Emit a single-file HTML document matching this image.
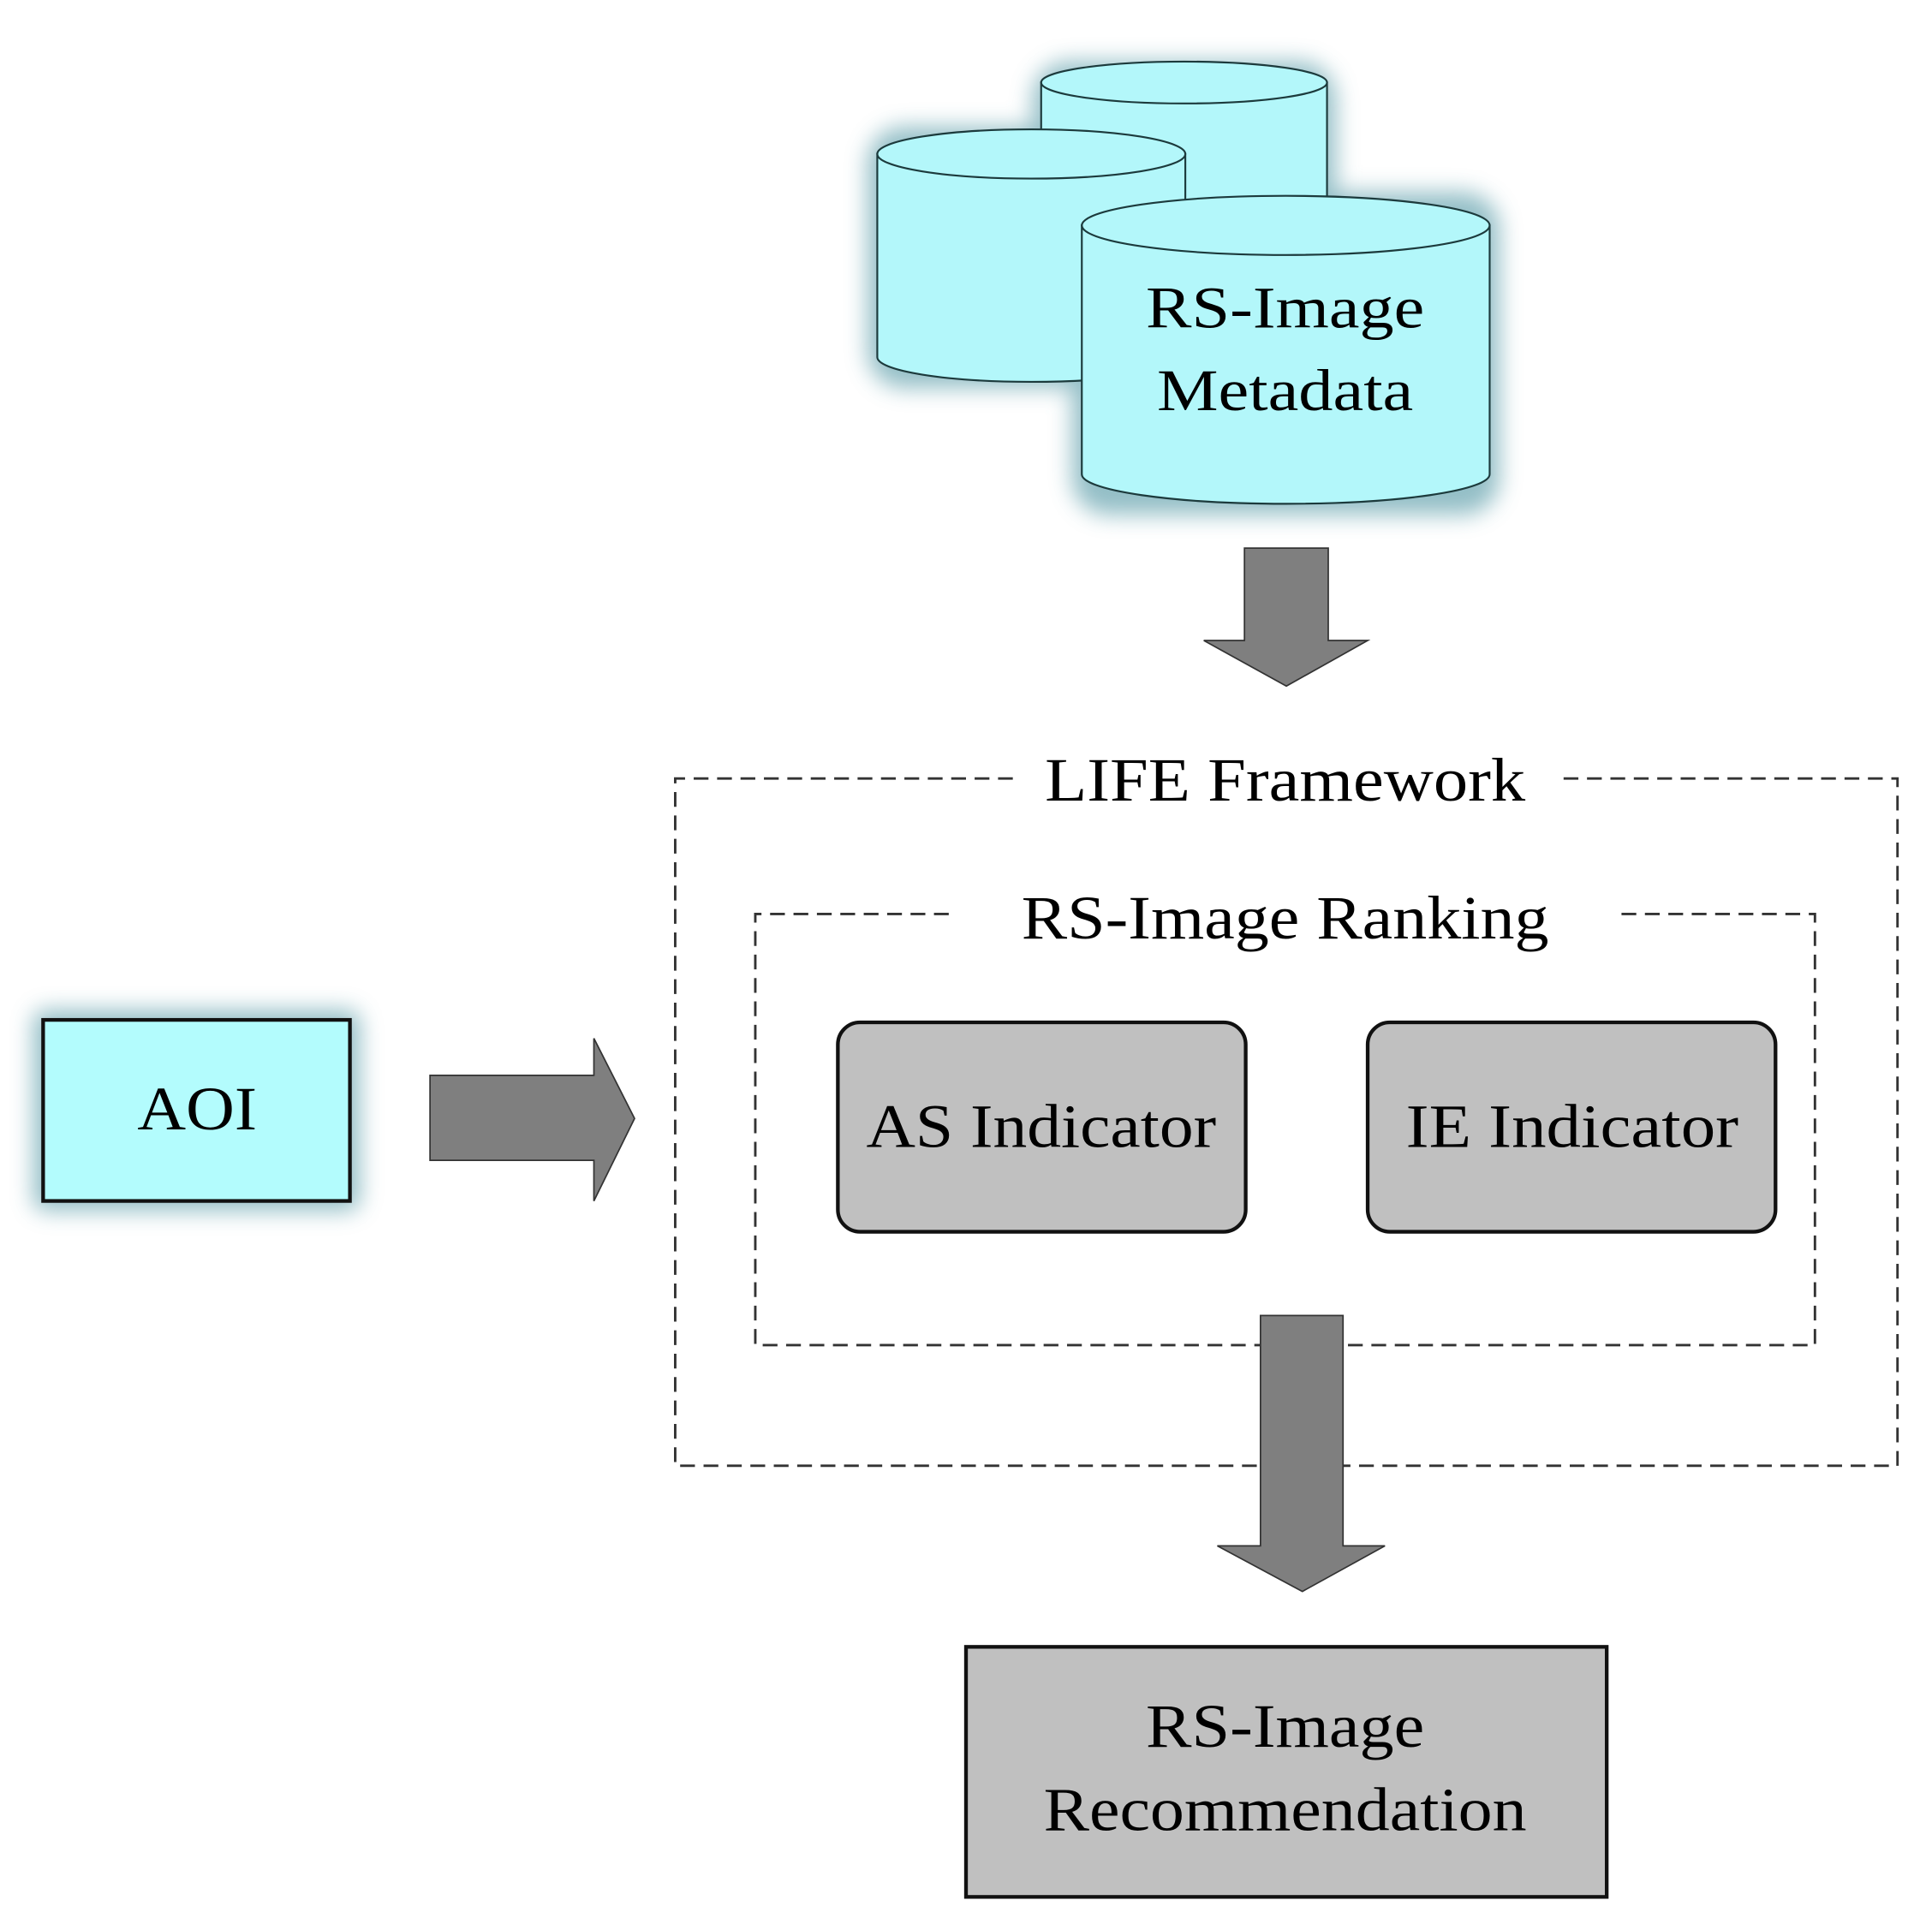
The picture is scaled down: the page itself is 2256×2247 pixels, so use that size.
<!DOCTYPE html>
<html><head><meta charset="utf-8"><style>
html,body{margin:0;padding:0;background:#fff;}
svg{display:block;}
text{font-family:"Liberation Serif",serif;fill:#000;}
</style></head><body>
<svg width="2256" height="2247" viewBox="0 0 1568 1562" preserveAspectRatio="none" xmlns="http://www.w3.org/2000/svg">
<defs>
<filter id="glow" x="-20%" y="-20%" width="140%" height="140%"><feGaussianBlur stdDeviation="9"/></filter>
</defs>
<rect width="1568" height="1562" fill="#fff"/>
<g filter="url(#glow)" fill="#6fa9b4" opacity="0.75">
<rect x="838" y="50" width="246" height="200" rx="30"/>
<rect x="704" y="103" width="266" height="212" rx="30"/>
<rect x="870" y="156" width="347" height="262" rx="30"/>
<rect x="27" y="820" width="265" height="163" rx="10"/>
</g>
<g stroke="#1c3a3c" stroke-width="1.5" fill="#b3f7fa">
<path d="M845 67 L845 240 A116 17 0 0 0 1077 240 L1077 67 Z"/>
<ellipse cx="961" cy="67" rx="116" ry="17"/>
<path d="M712 125 L712 290 A125 20 0 0 0 962 290 L962 125 Z"/>
<ellipse cx="837" cy="125" rx="125" ry="20"/>
<path d="M878 183 L878 385 A165.5 24 0 0 0 1209 385 L1209 183 Z"/>
<ellipse cx="1043.5" cy="183" rx="165.5" ry="24"/>
</g>
<text x="1043" y="266" font-size="48" text-anchor="middle" textLength="226" lengthAdjust="spacingAndGlyphs">RS-Image</text>
<text x="1043" y="333" font-size="48" text-anchor="middle" textLength="208" lengthAdjust="spacingAndGlyphs">Metadata</text>
<path d="M1010 445 L1078 445 L1078 520 L1110 520 L1044 557 L977 520 L1010 520 Z" fill="#7f7f7f" stroke="#333" stroke-width="1.2"/>
<g fill="none" stroke="#333" stroke-width="2" stroke-dasharray="12,7">
<path d="M822 632 L548 632 L548 1190 L1540 1190 L1540 632 L1264 632"/>
<path d="M770 742 L613 742 L613 1092 L1473 1092 L1473 742 L1312 742"/>
</g>
<text x="1043" y="650" font-size="50" text-anchor="middle" textLength="390" lengthAdjust="spacingAndGlyphs">LIFE Framework</text>
<text x="1043" y="762" font-size="50" text-anchor="middle" textLength="428" lengthAdjust="spacingAndGlyphs">RS-Image Ranking</text>
<rect x="680" y="830" width="331" height="170" rx="18" fill="#c0c0c0" stroke="#111" stroke-width="3"/>
<rect x="1110" y="830" width="331" height="170" rx="18" fill="#c0c0c0" stroke="#111" stroke-width="3"/>
<text x="845" y="931" font-size="50" text-anchor="middle" textLength="284" lengthAdjust="spacingAndGlyphs">AS Indicator</text>
<text x="1276" y="931" font-size="50" text-anchor="middle" textLength="270" lengthAdjust="spacingAndGlyphs">IE Indicator</text>
<rect x="35" y="828" width="249" height="147" fill="#b3fcfd" stroke="#111" stroke-width="3"/>
<text x="160" y="917" font-size="50" text-anchor="middle" textLength="97" lengthAdjust="spacingAndGlyphs">AOI</text>
<path d="M349 873 L482 873 L482 843 L515 908 L482 975 L482 942 L349 942 Z" fill="#7f7f7f" stroke="#333" stroke-width="1.2"/>
<path d="M1023 1068 L1090 1068 L1090 1255 L1124 1255 L1057 1292 L988 1255 L1023 1255 Z" fill="#7f7f7f" stroke="#333" stroke-width="1.2"/>
<rect x="784" y="1337" width="520" height="203" fill="#c0c0c0" stroke="#111" stroke-width="3"/>
<text x="1043" y="1418" font-size="50" text-anchor="middle" textLength="226" lengthAdjust="spacingAndGlyphs">RS-Image</text>
<text x="1043" y="1486" font-size="50" text-anchor="middle" textLength="392" lengthAdjust="spacingAndGlyphs">Recommendation</text>
</svg>
</body></html>
